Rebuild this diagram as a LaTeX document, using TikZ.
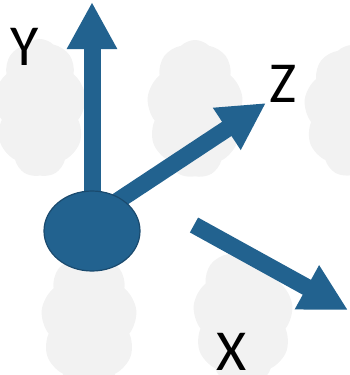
\documentclass[tikz,border=0pt]{standalone}
\usepackage{fontspec}
\setmainfont{Carlito}
\usetikzlibrary{shapes.symbols,shapes.geometric,arrows.meta}
\definecolor{axisblue}{HTML}{22628F}
\definecolor{axisedge}{HTML}{1A4A6E}
\definecolor{cloudgray}{HTML}{F2F2F2}
\tikzset{
  bgcloud/.style={cloud, cloud puffs=9, cloud puff arc=90, cloud ignores aspect, fill=cloudgray, draw=none, inner sep=0pt, minimum width=96pt, minimum height=138pt},
  axisarrow/.style={draw=axisblue, line width=17pt, -{Triangle[length=47pt,width=47pt]}},
  axislabel/.style={font=\fontsize{58}{58}\selectfont, inner sep=0pt, anchor=center}
}
\begin{document}
\begin{tikzpicture}[x=1pt,y=-1pt]
\useasboundingbox (0,0) rectangle (350,375);
% background clouds
\node[bgcloud, minimum width=92pt] (c1) at (40,108) {};
\node[bgcloud] (c2) at (195,109) {};
\node[bgcloud, minimum height=132pt] (c3) at (352,111) {};
\node[bgcloud] (c4) at (89,322) {};
\node[bgcloud, minimum width=100pt] (c5) at (243,317) {};
\node[bgcloud] (c6) at (398,392) {};
% axes
\coordinate (ytip) at (92,2);
\coordinate (zstart) at (110,206);
\coordinate (ztip) at (266,103);
\coordinate (xstart) at (194,225);
\coordinate (xtip) at (348,310);
\node[ellipse, minimum width=96pt, minimum height=80pt, inner sep=0pt] (o) at (92,231) {};
\draw[axisarrow] (o.center) -- (ytip);
\draw[axisarrow] (zstart) -- (ztip);
\draw[axisarrow] (xstart) -- (xtip);
\node[ellipse, fill=axisblue, draw=axisedge, line width=1.2pt, minimum width=96pt, minimum height=80pt, inner sep=0pt] (origin) at (o.center) {};
% labels
\node[axislabel] (ly) at (25,47) {Y};
\node[axislabel] (lz) at (283,84) {Z};
\node[axislabel] (lx) at (232,352) {X};
\end{tikzpicture}
\end{document}
